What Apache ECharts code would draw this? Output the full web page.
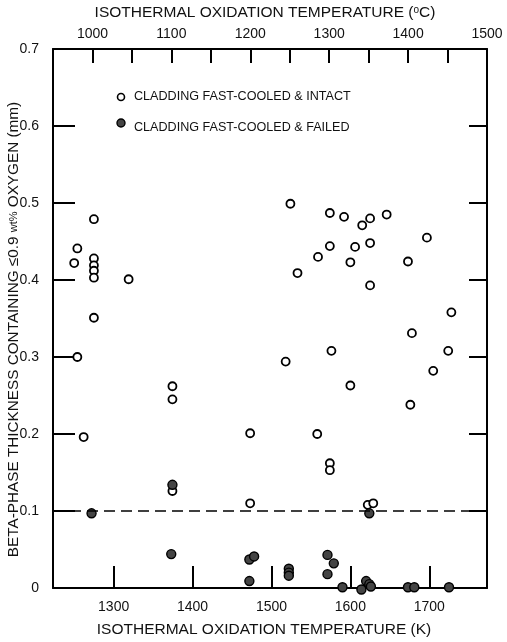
<!DOCTYPE html>
<html>
<head>
<meta charset="utf-8">
<title>Beta-phase thickness</title>
<script src="https://cdn.jsdelivr.net/npm/echarts@6/dist/echarts.min.js"></script>
<style>body{margin:0;background:#fff}</style>
</head>
<body>
<div id="main" style="width:507px;height:642px;"></div>
<script>
// temperatures in K, thickness in mm
var intactTemp = [1275, 1254, 1250, 1275, 1275, 1275, 1275, 1319, 1275, 1254, 1262,
  1374.5, 1374.5, 1374.5, 1473, 1473, 1558, 1574, 1574, 1600, 1676, 1622, 1629,
  1524, 1574, 1592, 1615, 1625, 1646, 1697, 1574, 1606, 1625, 1559, 1600, 1673,
  1533, 1625, 1678, 1576, 1518, 1728, 1724, 1705];
var intactThick = [0.479, 0.441, 0.422, 0.428, 0.419, 0.412, 0.403, 0.401, 0.351, 0.300, 0.196,
  0.262, 0.245, 0.126, 0.201, 0.110, 0.200, 0.162, 0.153, 0.263, 0.238, 0.108, 0.110,
  0.499, 0.487, 0.482, 0.471, 0.480, 0.485, 0.455, 0.444, 0.443, 0.448, 0.430, 0.423, 0.424,
  0.409, 0.393, 0.331, 0.308, 0.294, 0.358, 0.308, 0.282];
var failedTemp = [1272, 1624, 1374.5, 1373, 1472, 1478, 1472, 1522, 1522, 1522,
  1571, 1579, 1571, 1590, 1614, 1620, 1624, 1626, 1673, 1681, 1725];
var failedThick = [0.097, 0.097, 0.134, 0.044, 0.037, 0.041, 0.009, 0.025, 0.020, 0.016,
  0.043, 0.032, 0.018, 0.001, -0.002, 0.009, 0.005, 0.002, 0.001, 0.001, 0.001];
var kelvinTicks = [1300, 1400, 1500, 1600, 1700];
var celsiusLabels = [1000, 1100, 1200, 1300, 1400, 1500];
var limitThick = 0.1;

function pairs(xs, ys) {
  var out = [];
  for (var i = 0; i < xs.length; i++) out.push([xs[i], ys[i]]);
  return out;
}

var font = 'Liberation Sans';
var axisLine = {show: true, onZero: false, lineStyle: {color: '#000', width: 2}};

var myChart = echarts.init(document.getElementById('main'));
var option = {
  backgroundColor: '#fff',
  animation: false,
  grid: {left: 53, right: 20, top: 49, bottom: 54, outerBoundsMode: 'none', containLabel: false},
  xAxis: [{
    type: 'value', position: 'bottom', min: 1223.15, max: 1773.15,
    name: 'ISOTHERMAL OXIDATION TEMPERATURE (K)', nameLocation: 'middle', nameGap: 34,
    nameTextStyle: {fontFamily: font, fontSize: 15.5, color: '#111', padding: [0, 12, 0, 0]},
    axisLine: axisLine, splitLine: {show: false},
    axisTick: {inside: true, length: 22, lineStyle: {color: '#000', width: 2}, customValues: kelvinTicks},
    axisLabel: {customValues: kelvinTicks, margin: 12, fontFamily: font, fontSize: 14, color: '#111',
      formatter: function (v) { return String(v); }}
  }, {
    type: 'value', position: 'top', min: 950, max: 1500, interval: 50,
    name: '{t|ISOTHERMAL OXIDATION TEMPERATURE (}{s|o}{t|C)}', nameLocation: 'middle', nameGap: 28,
    nameTextStyle: {padding: [0, 10, 0, 0], rich: {
      t: {fontFamily: font, fontSize: 15.5, color: '#111'},
      s: {fontFamily: font, fontSize: 10, color: '#111', verticalAlign: 'top', padding: [0, 0, 6, 0]}
    }},
    axisLine: axisLine, splitLine: {show: false},
    axisTick: {inside: true, length: 14, lineStyle: {color: '#000', width: 2}},
    axisLabel: {
      interval: 0, margin: 8, fontFamily: font, fontSize: 14, color: '#111',
      formatter: function (v) { return celsiusLabels.indexOf(v) >= 0 ? String(v) : ''; }
    }
  }],
  yAxis: [{
    type: 'value', min: 0, max: 0.7, interval: 0.1,
    name: '{t|BETA-PHASE THICKNESS CONTAINING \u22640.9 }{s|wt%}{t| OXYGEN (mm)}',
    nameLocation: 'middle', nameGap: 32, nameRotate: 90, nameMoveOverlap: false,
    nameTextStyle: {padding: [0, 22, 0, 0], rich: {
      t: {fontFamily: font, fontSize: 15.3, color: '#111'},
      s: {fontFamily: font, fontSize: 11, color: '#111'}
    }},
    axisLine: axisLine, splitLine: {show: false},
    axisTick: {inside: true, length: 22, lineStyle: {color: '#000', width: 2}},
    axisLabel: {margin: 14, fontFamily: font, fontSize: 14, color: '#111',
      formatter: function (v) { return v === 0 ? '0' : v.toFixed(1); }}
  }, {
    type: 'value', position: 'right', min: 0, max: 0.7, interval: 0.1,
    axisLine: axisLine, splitLine: {show: false},
    axisTick: {inside: true, length: 18, lineStyle: {color: '#000', width: 2}},
    axisLabel: {show: false}
  }],
  graphic: [
    {type: 'circle', shape: {cx: 121, cy: 97, r: 3.5}, style: {fill: '#fff', stroke: '#000', lineWidth: 1.6}},
    {type: 'text', left: 134, top: 90, style: {text: 'CLADDING FAST-COOLED & INTACT', font: '12.6px "Liberation Sans"', fill: '#111'}},
    {type: 'circle', shape: {cx: 121, cy: 123, r: 4}, style: {fill: '#444', stroke: '#000', lineWidth: 1.4}},
    {type: 'text', left: 134, top: 121, style: {text: 'CLADDING FAST-COOLED & FAILED', font: '12.6px "Liberation Sans"', fill: '#111'}}
  ],
  series: [{
    name: 'limit', type: 'line', data: [], xAxisIndex: 0, yAxisIndex: 0,
    markLine: {
      silent: true, symbol: 'none', label: {show: false},
      lineStyle: {color: '#000', width: 1.6, type: [11, 6]},
      data: [{yAxis: limitThick}]
    }
  }, {
    name: 'intact', type: 'scatter', xAxisIndex: 0, yAxisIndex: 0, clip: false,
    symbol: 'circle', symbolSize: 8,
    itemStyle: {color: '#fff', borderColor: '#000', borderWidth: 1.8, opacity: 1},
    data: pairs(intactTemp, intactThick)
  }, {
    name: 'failed', type: 'scatter', xAxisIndex: 0, yAxisIndex: 0, clip: false,
    symbol: 'circle', symbolSize: 9,
    itemStyle: {color: '#444', borderColor: '#000', borderWidth: 1.4, opacity: 1},
    data: pairs(failedTemp, failedThick)
  }]
};
myChart.setOption(option);
</script>
</body>
</html>
